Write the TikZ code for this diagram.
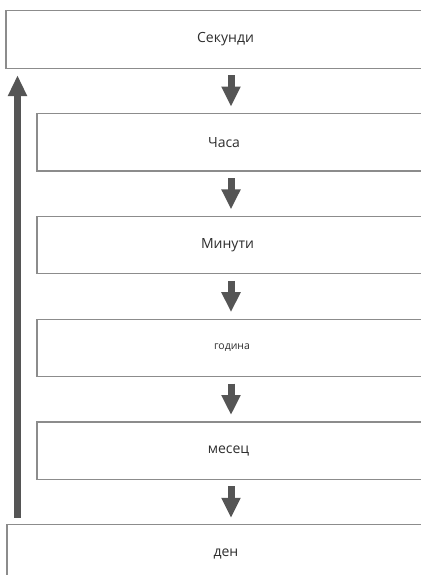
\documentclass[tikz,border=0pt]{standalone}
\usepackage{fontspec}
\setmainfont{Open Sans}
\usetikzlibrary{arrows.meta,positioning}
\definecolor{boxline}{HTML}{8C8C8C}
\definecolor{arrowgray}{HTML}{555555}
\definecolor{textgray}{HTML}{2E2E2E}
\tikzset{
	unitbox/.style={minimum width=560pt, minimum height=57pt, anchor=west, inner sep=0pt},
	boxside/.style={draw=boxline, line width=1.2pt},
	unitlabel/.style={text=textgray, font=\fontsize{14}{16}\selectfont, inner sep=0pt},
	smalllabel/.style={unitlabel, font=\fontsize{10.5}{12}\selectfont},
	downarrow/.style={draw=arrowgray, line width=7pt, -{Triangle[width=18pt,length=20pt]}, shorten <=7pt, shorten >=7pt},
	uparrow/.style={downarrow, -{Triangle[width=18pt,length=21pt]}}
}
\begin{document}
\begin{tikzpicture}[x=1pt, y=-1pt]
	\fill[white] (0,0) rectangle (422,575);
	\useasboundingbox (0,0) rectangle (422,575);
	% boxes (they run on past the right edge of the page)
	\node[unitbox] (sec) at (6,39.5) {};
	\node[unitbox] (hrs) at (37,142.3) {};
	\node[unitbox] (min) at (37,245.1) {};
	\node[unitbox] (yr) at (37,347.9) {};
	\node[unitbox] (mon) at (37,450.7) {};
	\node[unitbox] (day) at (7,553.5) {};
	\coordinate (edge) at (420.5,0);
	\foreach \b in {sec,hrs,min,yr,mon,day}
		\draw[boxside] (\b.north west -| edge) -- (\b.north west) -- (\b.south west) -- (\b.south west -| edge);
	% labels
	\node[unitlabel] (lsec) at (225.5,39.5) {Секунди};
	\node[unitlabel] (lhrs) at (224,142.3) {Часа};
	\node[unitlabel] (lmin) at (227.5,245.1) {Минути};
	\node[smalllabel] (lyr) at (232,347.9) {година};
	\node[unitlabel] (lmon) at (228.5,450.7) {месец};
	\node[unitlabel] (lday) at (226,553.5) {ден};
	% arrows
	\coordinate (arx) at (231,0);
	\coordinate (upx) at (17.5,0);
	\draw[downarrow] (sec.south -| arx) -- (hrs.north -| arx);
	\draw[downarrow] (hrs.south -| arx) -- (min.north -| arx);
	\draw[downarrow] (min.south -| arx) -- (yr.north -| arx);
	\draw[downarrow] (yr.south -| arx) -- (mon.north -| arx);
	\draw[downarrow] (mon.south -| arx) -- (day.north -| arx);
	\draw[uparrow] (day.north -| upx) -- (sec.south -| upx);
\end{tikzpicture}
\end{document}
